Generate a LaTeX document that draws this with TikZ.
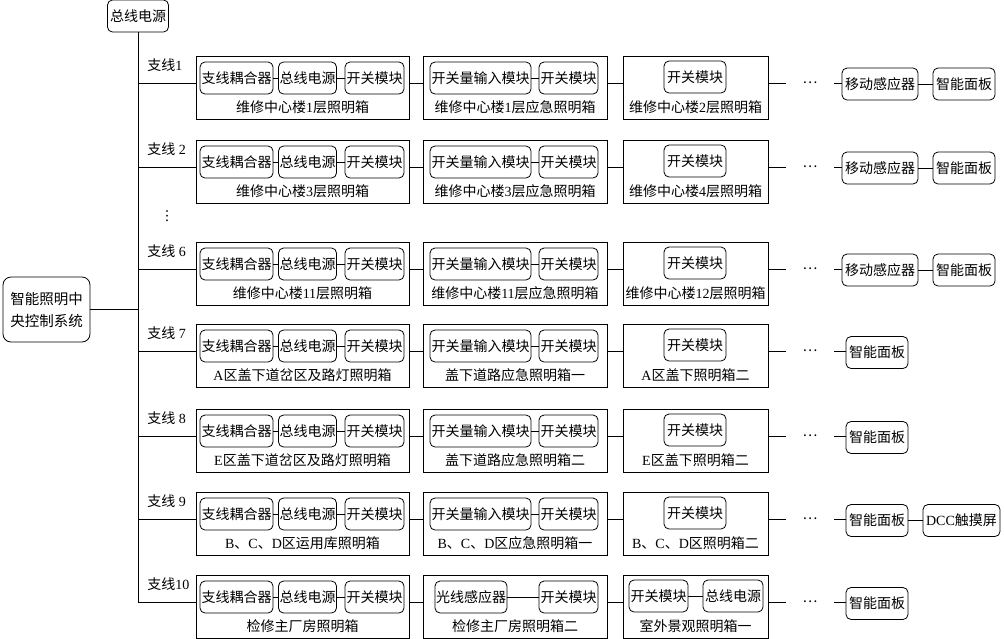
\documentclass[tikz,border=0pt]{standalone}
\usepackage{fontspec}
\setmainfont{Liberation Serif}
\newfontfamily\cjk{Noto Sans CJK SC}
\newcommand\lat[1]{{\rmfamily #1}}
\usetikzlibrary{positioning}

\begin{document}
\begin{tikzpicture}[x=1pt,y=-1pt,line width=0.8pt]
    \tikzstyle{every node}=[font=\cjk\fontsize{14}{16}\selectfont]
    \tikzstyle{module}=[draw,rounded corners=5pt,minimum height=32pt,inner sep=1pt]
    \tikzstyle{cabinet}=[draw,line width=1pt,minimum height=63pt,inner sep=0pt]
    \tikzstyle{caption}=[inner sep=0pt]
    \tikzstyle{branch}=[anchor=west,inner sep=0pt]
    \tikzstyle{more}=[minimum width=48pt,inner sep=0pt]

    \useasboundingbox (0,0) rectangle (1004,638);

    % Draw the control system and the bus
    \node[module,rounded corners=8pt,minimum width=87pt,minimum height=65pt,align=center,
          font=\cjk\fontsize{14.5}{22}\selectfont] (ctrl) at (46.5,309.5) {智能照明中\\央控制系统};
    \node[module,minimum width=61pt] (bus) at (138,16) {总线电源};
    \coordinate (busend) at (138,602);
    \draw (bus.south) -- (busend);
    \draw (ctrl.east) -- (ctrl.east -| bus.south);
    \node[inner sep=0pt] (vdots) at (167,216) {︙};

    % Draw the cabinets of every branch
    \foreach \r/\y/\br/\capa/\capb/\capc in {
        1/83/{支线\lat{1}}/{维修中心楼\lat{1}层照明箱}/{维修中心楼\lat{1}层应急照明箱}/{维修中心楼\lat{2}层照明箱},
        2/167/{支线\lat{~2}}/{维修中心楼\lat{3}层照明箱}/{维修中心楼\lat{3}层应急照明箱}/{维修中心楼\lat{4}层照明箱},
        6/269/{支线\lat{~6}}/{维修中心楼\lat{11}层照明箱}/{维修中心楼\lat{11}层应急照明箱}/{维修中心楼\lat{12}层照明箱},
        7/351/{支线\lat{~7}}/{\lat{A}区盖下道岔区及路灯照明箱}/{盖下道路应急照明箱一}/{\lat{A}区盖下照明箱二},
        8/436/{支线\lat{~8}}/{\lat{E}区盖下道岔区及路灯照明箱}/{盖下道路应急照明箱二}/{\lat{E}区盖下照明箱二},
        9/519/{支线\lat{~9}}/{\lat{B}、\lat{C}、\lat{D}区运用库照明箱}/{\lat{B}、\lat{C}、\lat{D}区应急照明箱一}/{\lat{B}、\lat{C}、\lat{D}区照明箱二},
        10/602/{支线\lat{10}}/{检修主厂房照明箱}/{检修主厂房照明箱二}/{室外景观照明箱一}}
    {
        \coordinate (row-\r) at (138,\y);
        \node[branch] (L-\r) at (147,\y-18) {\br};
        \node[cabinet,minimum width=213pt] (A-\r) at (302.5,\y+4.5) {};
        \node[cabinet,minimum width=184pt] (B-\r) at (515,\y+4.5) {};
        \node[cabinet,minimum width=145pt] (C-\r) at (695.5,\y+4.5) {};
        \node[caption] (A-\r-cap) at (302.5,\y+24) {\capa};
        \node[caption] (B-\r-cap) at (515,\y+24) {\capb};
        \node[caption] (C-\r-cap) at (695.5,\y+24) {\capc};
        \node[module,minimum width=73pt] (A1-\r) at (236.5,\y-5) {支线耦合器};
        \node[module,minimum width=57pt] (A2-\r) at (307.5,\y-5) {总线电源};
        \node[module,minimum width=59pt] (A3-\r) at (374.5,\y-5) {开关模块};
        \node[more] (D-\r) at (810,\y) {…};
        \draw (row-\r) -- (row-\r -| A-\r.west);
        \draw (A1-\r) -- (A2-\r) (A2-\r) -- (A3-\r);
        \draw (row-\r -| A-\r.east) -- (row-\r -| B-\r.west);
        \draw (row-\r -| B-\r.east) -- (row-\r -| C-\r.west);
        \draw (row-\r -| C-\r.east) -- (D-\r.west);
    }

    % Draw the modules of the emergency and floor cabinets
    \foreach \r/\y in {1/83,2/167,6/269,7/351,8/436,9/519}
    {
        \node[module,minimum width=101pt] (B1-\r) at (480.5,\y-5) {开关量输入模块};
        \node[module,minimum width=59pt] (B2-\r) at (568.5,\y-5) {开关模块};
        \node[module,minimum width=62pt] (C1-\r) at (695,\y-6) {开关模块};
        \draw (B1-\r) -- (B2-\r);
    }

    % Draw the modules of branch 10
    \node[module,minimum width=72pt] (B1-10) at (471,597) {光线感应器};
    \node[module,minimum width=59pt] (B2-10) at (568.5,597) {开关模块};
    \node[module,minimum width=59pt] (C1-10) at (658.5,596) {开关模块};
    \node[module,minimum width=60pt] (C2-10) at (733,596) {总线电源};
    \draw (B1-10) -- (B2-10);
    \draw (C1-10) -- (C2-10);

    % Draw the devices at the end of the branches
    \foreach \r/\y in {1/83,2/167,6/269}
    {
        \node[module,minimum width=76pt] (S-\r) at (880,\y+1) {移动感应器};
        \node[module,minimum width=62pt] (P-\r) at (964,\y+1) {智能面板};
        \draw (D-\r.east) -- (D-\r.east -| S-\r.west);
        \draw (S-\r) -- (P-\r);
    }
    \foreach \r/\y in {7/351,8/436,9/519,10/602}
    {
        \node[module,minimum width=62pt] (P-\r) at (877,\y+1.5) {智能面板};
        \draw (D-\r.east) -- (D-\r.east -| P-\r.west);
    }
    \node[module,minimum width=77pt] (T-9) at (961.5,520.5) {\lat{DCC}触摸屏};
    \draw (P-9) -- (T-9);
\end{tikzpicture}
\end{document}
